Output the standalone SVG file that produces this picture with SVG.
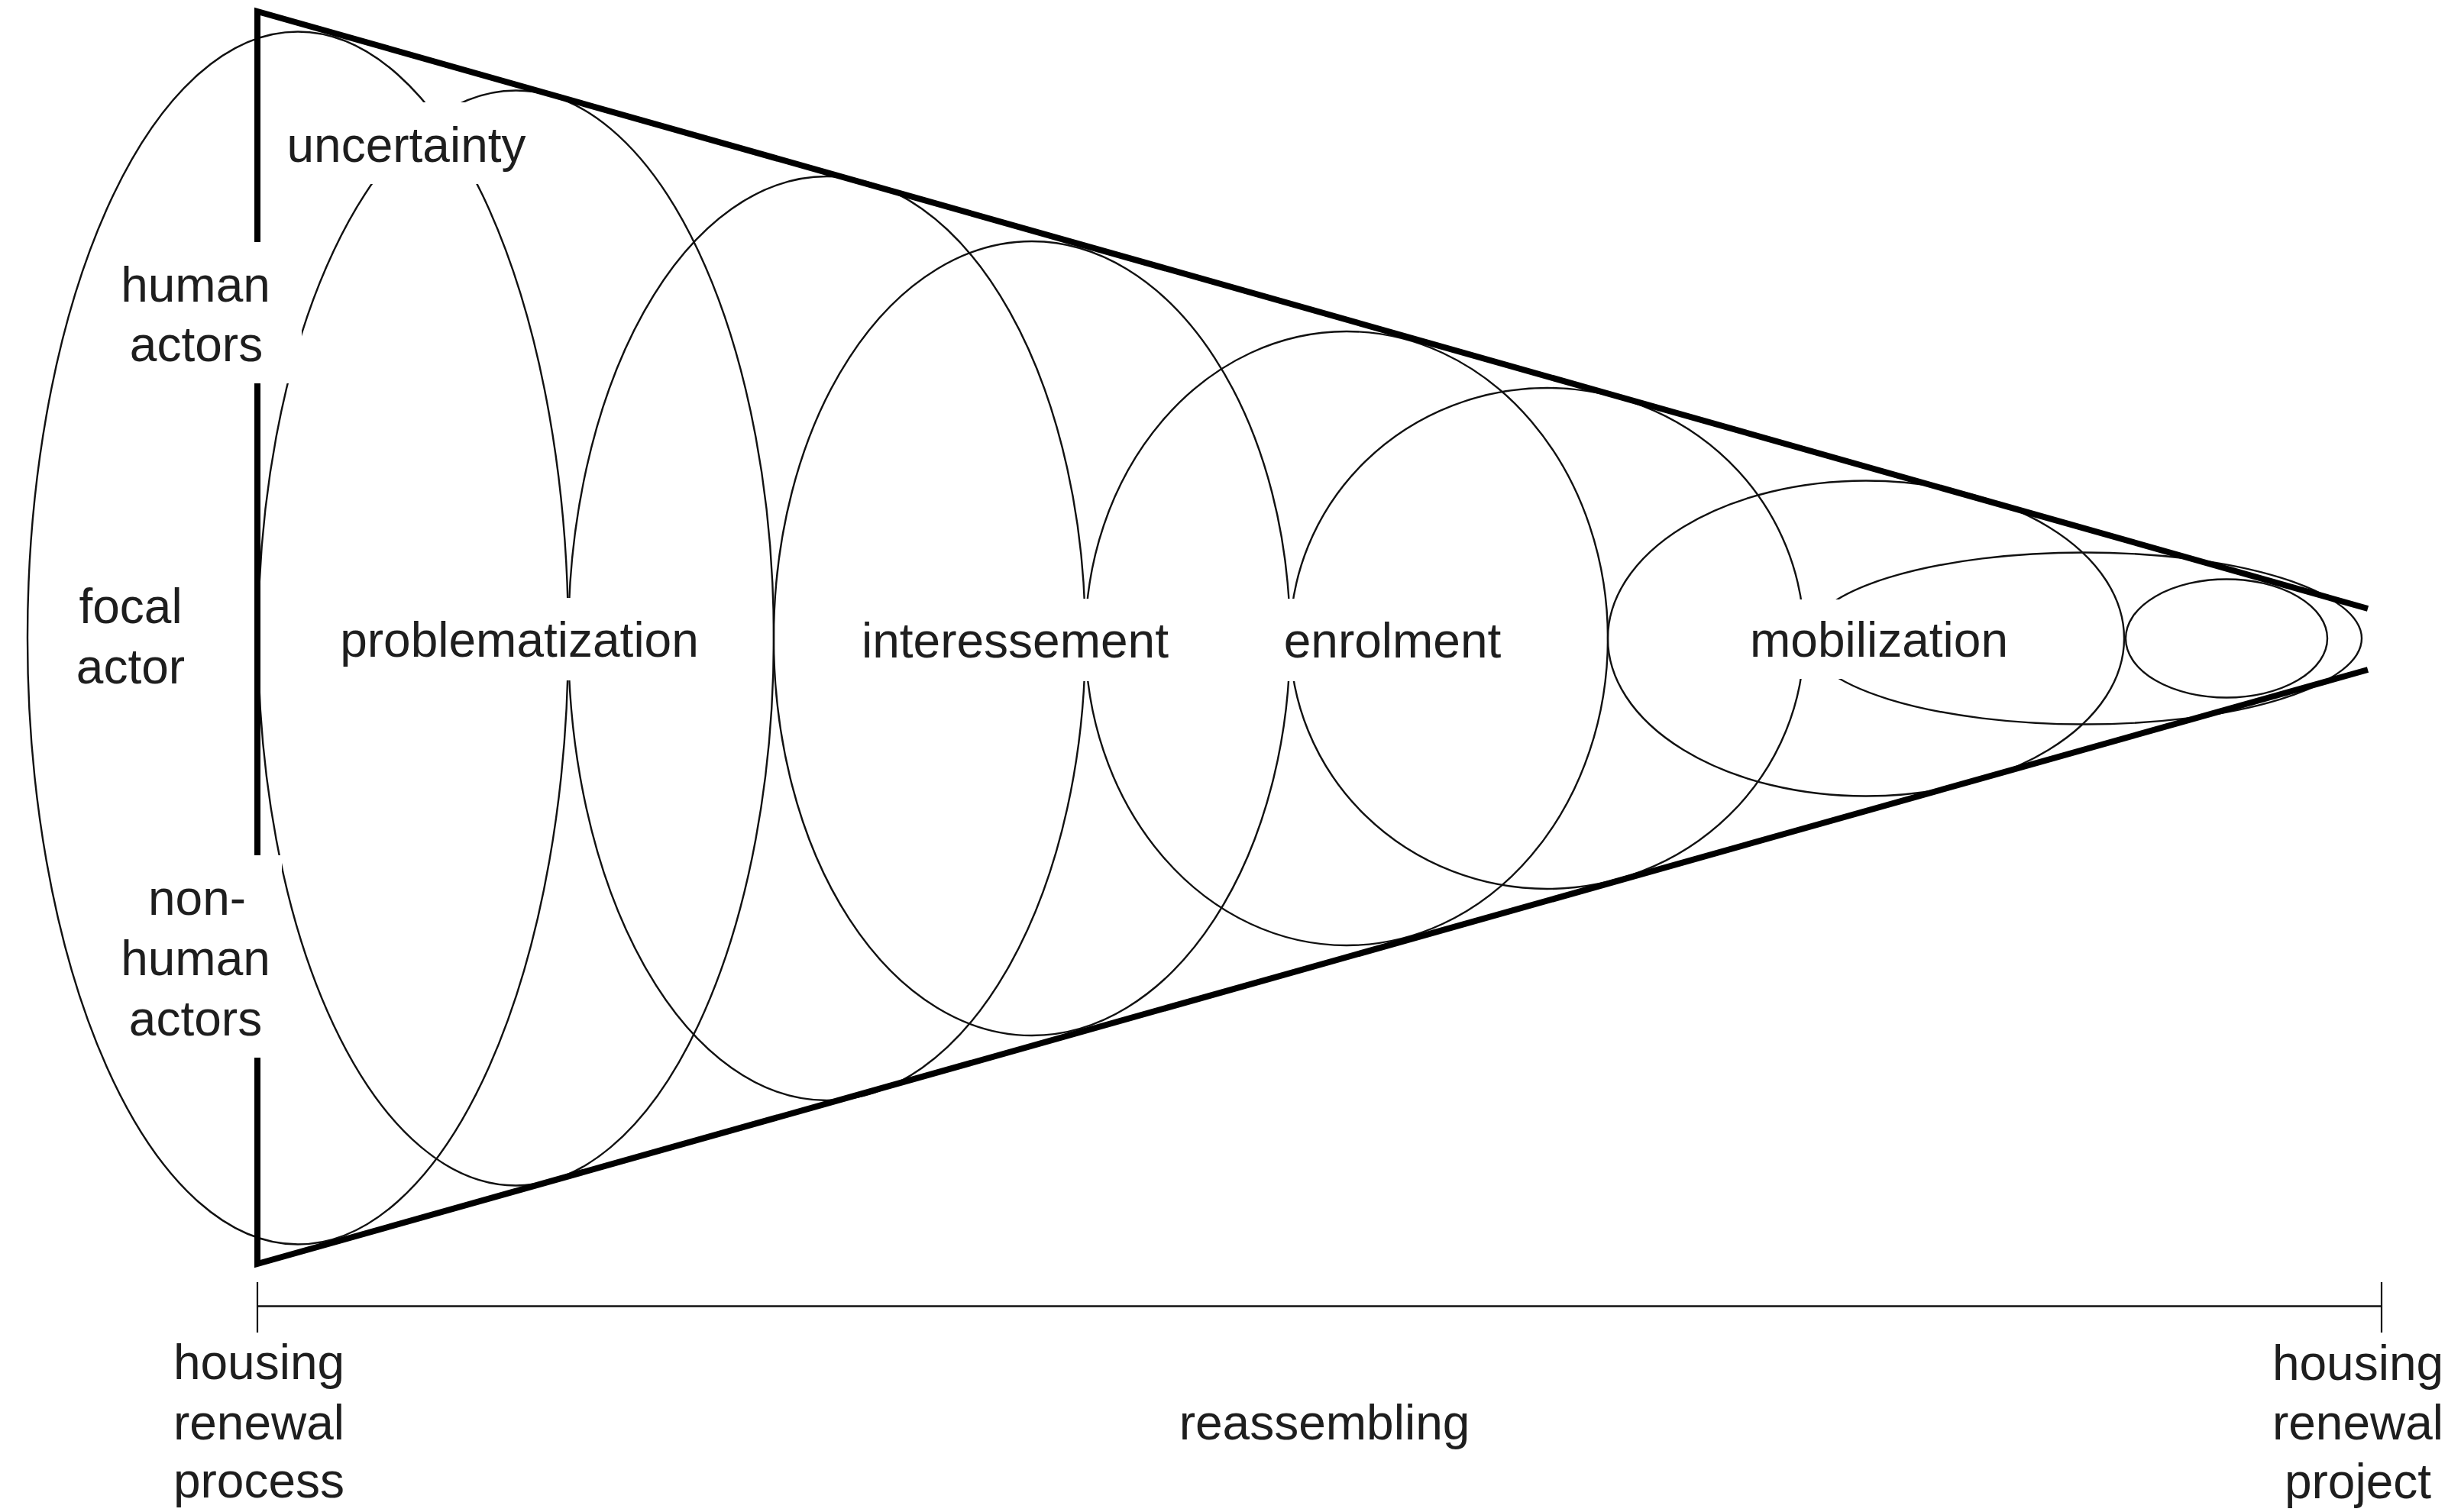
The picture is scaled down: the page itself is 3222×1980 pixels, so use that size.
<svg xmlns="http://www.w3.org/2000/svg" width="3222" height="1980" viewBox="0 0 3222 1980">
<style>
.ell{fill:none;stroke:#111;stroke-width:2.4}
.cone{fill:none;stroke:#000;stroke-width:8;stroke-linejoin:miter;stroke-miterlimit:10;stroke-linecap:butt}
.axis{fill:none;stroke:#111;stroke-width:2.6}
.bg{fill:#fff;stroke:none}
text{font-family:"Liberation Sans",Arial,Helvetica,sans-serif;font-size:64px;fill:#1e1e1e;text-anchor:middle}
</style>
<rect width="3222" height="1980" fill="#fff"/>
<g id="stages">
<g id="ellipse-a"><ellipse class="ell" cx="390" cy="835.5" rx="354" ry="794"/></g>
<g id="ellipse-b"><ellipse class="ell" cx="675.5" cy="835.5" rx="337.5" ry="717"/></g>
<g id="ellipse-c"><ellipse class="ell" cx="1082.5" cy="836" rx="338.5" ry="605"/></g>
<g id="ellipse-d"><ellipse class="ell" cx="1351" cy="836" rx="338" ry="520"/></g>
<g id="ellipse-e"><ellipse class="ell" cx="1763" cy="836" rx="342" ry="402"/></g>
<g id="ellipse-f"><ellipse class="ell" cx="2025.5" cy="836" rx="336.5" ry="328"/></g>
<g id="ellipse-g"><ellipse class="ell" cx="2443" cy="836" rx="338" ry="206.5"/></g>
<g id="ellipse-h"><ellipse class="ell" cx="2729" cy="836" rx="363" ry="112.5"/></g>
<g id="ellipse-i"><ellipse class="ell" cx="2915" cy="836" rx="132" ry="77.5"/></g>
</g>
<g id="cone">
<path class="cone" d="M3100,797 L337,15 L337,1655 L3100,877"/>
</g>
<g id="connectors">
<line class="axis" x1="337" y1="1710.5" x2="3118" y2="1710.5"/>
<line class="axis" x1="337" y1="1679" x2="337" y2="1745" style="stroke-width:2.2"/>
<line class="axis" x1="3118" y1="1679" x2="3118" y2="1745" style="stroke-width:2.2"/>
</g>
<g id="label-uncertainty"><rect class="bg" x="360" y="134" width="360" height="107"/><text x="532" y="212">uncertainty</text></g>
<g id="label-human-actors"><rect class="bg" x="130" y="317" width="265" height="185"/><text x="256" y="395">human</text><text x="257" y="473">actors</text></g>
<g id="label-focal-actor"><text x="171" y="816">focal</text><text x="171" y="895">actor</text></g>
<g id="label-nonhuman-actors"><rect class="bg" x="140" y="1120" width="229" height="265"/><text x="258" y="1198">non-</text><text x="256" y="1277">human</text><text x="256" y="1356">actors</text></g>
<g id="label-problematization"><rect class="bg" x="430" y="783" width="500" height="108"/><text x="680" y="860">problematization</text></g>
<g id="label-interessement"><rect class="bg" x="1115" y="784" width="430" height="108"/><text x="1329" y="861">interessement</text></g>
<g id="label-enrolment"><rect class="bg" x="1670" y="784" width="310" height="108"/><text x="1823" y="861">enrolment</text></g>
<g id="label-mobilization"><rect class="bg" x="2275" y="785" width="370" height="104"/><text x="2460" y="860">mobilization</text></g>
<g id="label-start"><text x="339" y="1806">housing</text><text x="339" y="1885">renewal</text><text x="339" y="1961">process</text></g>
<g id="label-reassembling"><text x="1734" y="1885">reassembling</text></g>
<g id="label-end"><text x="3087" y="1807">housing</text><text x="3087" y="1885">renewal</text><text x="3087" y="1962">project</text></g>
</svg>
